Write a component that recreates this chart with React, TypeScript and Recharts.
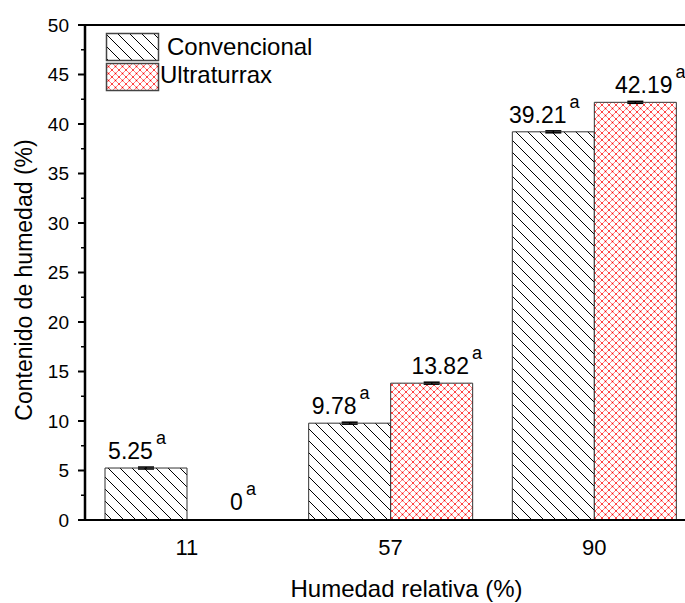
import React from "react";
import {
  BarChart,
  Bar,
  XAxis,
  YAxis,
  ErrorBar,
  LabelList,
  ReferenceLine,
  Cell,
} from "recharts";

const categories = ["11", "57", "90"];
const convencional = [5.25, 9.78, 39.21];
const ultraturrax = [0, 13.82, 42.19];
const convencionalErr = [0.1, 0.1, 0.1];
const ultraturraxErr = [0, 0.1, 0.1];
const letters = ["a", "a", "a"];
const yTicks = [
  0, 2.5, 5, 7.5, 10, 12.5, 15, 17.5, 20, 22.5, 25, 27.5, 30, 32.5, 35, 37.5,
  40, 42.5, 45, 47.5, 50,
];

const FONT = '"Liberation Sans", Arial, sans-serif';

const data = categories.map((c, i) => ({
  humedad: c,
  conv: convencional[i],
  ultra: ultraturrax[i],
  convErr: convencionalErr[i],
  ultraErr: ultraturraxErr[i],
}));

function Patterns() {
  return (
    <svg width={0} height={0} style={{ position: "absolute" }}>
      <defs>
        <pattern id="hatch" patternUnits="userSpaceOnUse" width={12} height={12}>
          <rect width={12} height={12} fill="#fff" />
          <path
            d="M0,0 L12,12 M-2,10 L2,14 M10,-2 L14,2"
            stroke="#000"
            strokeWidth={1}
          />
        </pattern>
        <pattern id="cross" patternUnits="userSpaceOnUse" width={7} height={7}>
          <rect width={7} height={7} fill="#fff" />
          <path
            d="M0,0 L7,7 M-1,6 L1,8 M6,-1 L8,1 M7,0 L0,7 M-1,1 L1,-1 M6,8 L8,6"
            stroke="#ff6a6a"
            strokeWidth={0.85}
          />
          <rect x={2.8} y={2.8} width={1.4} height={1.4} fill="#ff0000" />
          <rect x={-0.7} y={-0.7} width={1.4} height={1.4} fill="#ff0000" />
          <rect x={6.3} y={-0.7} width={1.4} height={1.4} fill="#ff0000" />
          <rect x={-0.7} y={6.3} width={1.4} height={1.4} fill="#ff0000" />
          <rect x={6.3} y={6.3} width={1.4} height={1.4} fill="#ff0000" />
        </pattern>
      </defs>
    </svg>
  );
}

function YTick(props: any) {
  const { x, y, payload } = props;
  const major = payload.value % 5 === 0;
  return (
    <g>
      <line
        x1={x - (major ? 7 : 4)}
        x2={x}
        y1={y}
        y2={y}
        stroke="#000"
        strokeWidth={major ? 2 : 1.5}
      />
      {major && (
        <text
          x={x - 16}
          y={y}
          dy="0.36em"
          textAnchor="end"
          fontSize={19}
          fontFamily={FONT}
          fill="#000"
        >
          {payload.value}
        </text>
      )}
    </g>
  );
}

function makeLabel(dx: number) {
  return (props: any) => {
    const { x, y, width, height, value, index } = props;
    const top = height > 0 ? y : y + height;
    return (
      <text
        x={x + width / 2 + dx}
        y={top - 9}
        textAnchor="middle"
        fontSize={23}
        fontFamily={FONT}
        fill="#000"
      >
        {String(value)}
        <tspan dx={3} dy={-15} fontSize={18}>
          {letters[index]}
        </tspan>
      </text>
    );
  };
}

function Legend() {
  return (
    <svg
      width={685}
      height={603}
      style={{ position: "absolute", left: 0, top: 0, pointerEvents: "none" }}
    >
      <rect x={106.5} y={33.5} width={52} height={27} fill="url(#hatch)" stroke="#444" strokeWidth={1.5} />
      <text x={167} y={55} fontSize={24} fontFamily={FONT} fill="#000">
        Convencional
      </text>
      <rect x={106.5} y={63.5} width={52} height={27} fill="url(#cross)" stroke="#444" strokeWidth={1.5} />
      <text x={160} y={83} fontSize={24} fontFamily={FONT} fill="#000">
        Ultraturrax
      </text>
    </svg>
  );
}

export default function App() {
  return (
    <div
      style={{
        position: "absolute",
        left: 0,
        top: 0,
        width: 685,
        height: 603,
        overflow: "hidden",
        background: "#fff",
      }}
    >
      <Patterns />
      <BarChart
        width={700}
        height={603}
        data={data}
        margin={{ top: 25, right: 4, bottom: 0, left: 0 }}
        barCategoryGap={20}
        barGap={0}
      >
        <XAxis
          dataKey="humedad"
          height={83}
          tickLine={false}
          tickSize={0}
          tickMargin={19}
          tick={{ fontSize: 22, fill: "#000", fontFamily: FONT }}
          axisLine={{ stroke: "#000", strokeWidth: 2 }}
          label={{
            content: (p: any) => {
              const vb = p.viewBox;
              return (
                <text
                  x={vb.x + vb.width / 2 + 16}
                  y={vb.y + 77}
                  textAnchor="middle"
                  fontSize={24}
                  fontFamily={FONT}
                  fill="#000"
                >
                  Humedad relativa (%)
                </text>
              );
            },
          }}
        />
        <YAxis
          width={85}
          domain={[0, 50]}
          ticks={yTicks}
          interval={0}
          tickLine={false}
          tickSize={0}
          tickMargin={0}
          tick={<YTick />}
          axisLine={{ stroke: "#000", strokeWidth: 2.5 }}
          label={{
            content: (p: any) => {
              const vb = p.viewBox;
              const cx = 23.5;
              const cy = vb.y + vb.height / 2 + 7.5;
              return (
                <text
                  x={cx}
                  y={cy}
                  transform={`rotate(-90 ${cx} ${cy})`}
                  textAnchor="middle"
                  dominantBaseline="central"
                  fontSize={23}
                  fontFamily={FONT}
                  fill="#000"
                >
                  Contenido de humedad (%)
                </text>
              );
            },
          }}
        />
        <ReferenceLine y={50} stroke="#000" strokeWidth={2} />
        <Bar
          dataKey="conv"
          name="Convencional"
          fill="url(#hatch)"
          stroke="#333"
          strokeWidth={1}
          isAnimationActive={false}
        >
          <ErrorBar dataKey="convErr" width={8} stroke="#000" strokeWidth={1.5} direction="y" />
          <LabelList dataKey="conv" content={makeLabel(-9)} />
        </Bar>
        <Bar
          dataKey="ultra"
          name="Ultraturrax"
          fill="url(#cross)"
          stroke="#333"
          strokeWidth={1}
          minPointSize={1}
          isAnimationActive={false}
        >
          {ultraturrax.map((v, i) => (
            <Cell key={i} stroke={v === 0 ? "none" : "#333"} />
          ))}
          <ErrorBar dataKey="ultraErr" width={8} stroke="#000" strokeWidth={1.5} direction="y" />
          <LabelList dataKey="ultra" content={makeLabel(15)} />
        </Bar>
      </BarChart>
      <Legend />
    </div>
  );
}
